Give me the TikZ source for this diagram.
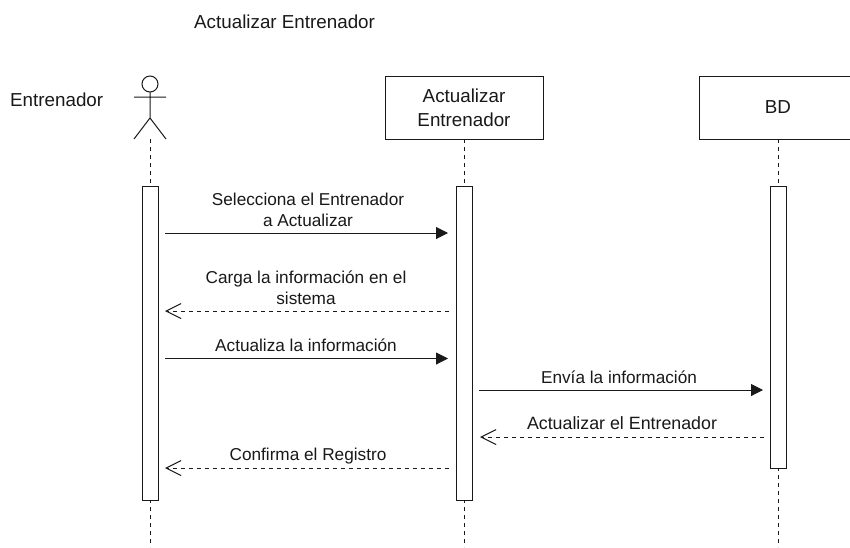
\documentclass[tikz,border=0pt]{standalone}
\usepackage{fontspec}
\setmainfont{Liberation Sans}
\usetikzlibrary{arrows.meta}
\definecolor{ink}{gray}{0.1}
\tikzset{
 px/.style={x=1pt,y=-1pt},
 life/.style={draw=ink,line width=0.9pt,dash pattern=on 4pt off 4pt},
 stick/.style={draw=ink,line width=1pt},
 box/.style={draw=ink,fill=white,line width=1pt,minimum width=158pt,minimum height=63pt,align=center,inner sep=0pt,text=ink,font=\fontsize{18.8}{24}\selectfont},
 act/.style={draw=ink,fill=white,line width=1pt,minimum width=16pt,inner sep=0pt},
 msg/.style={draw=ink,line width=1pt,-{Triangle[length=12pt,width=12pt]}},
 ret/.style={draw=ink,line width=0.9pt,dash pattern=on 4pt off 4pt,-{Straight Barb[length=15pt,width=15pt,line width=1pt]}},
 lbl/.style={text=ink,inner sep=0pt,align=center,font=\fontsize{17.2}{21}\selectfont},
 big/.style={lbl,anchor=west,font=\fontsize{18.8}{23}\selectfont},
}
\begin{document}
\begin{tikzpicture}[px]
\useasboundingbox (0,0) rectangle (850,547);
\fill[white] (0,0) rectangle (850,547);
\node[big] (title) at (194,22) {Actualizar Entrenador};
\node[big] (ename) at (10,100) {Entrenador};
\coordinate (atop) at (150,139);
\coordinate (abot) at (150,547);
\draw[life] (atop) -- (abot);
\coordinate (bt) at (464,139);
\coordinate (bb) at (464,547);
\draw[life] (bt) -- (bb);
\coordinate (ct) at (778,139);
\coordinate (cb) at (778,547);
\draw[life] (ct) -- (cb);
\draw[stick,fill=white] (150,84) circle (8);
\coordinate (neck) at (150,92);
\coordinate (hip) at (150,118);
\coordinate (lf) at (134,139);
\coordinate (rf) at (166,139);
\coordinate (al) at (134,97);
\coordinate (ar) at (166,97);
\draw[stick] (neck) -- (hip) (al) -- (ar) (lf) -- (hip) -- (rf);
\begin{scope}
\clip (0,0) rectangle (850,547);
\node[box] (B) at (464,107.5) {Actualizar\\Entrenador};
\node[box] (C) at (778,107.5) {BD};
\end{scope}
\node[act,minimum height=314pt] (A1) at (150,343) {};
\node[act,minimum height=314pt] (A2) at (464,343) {};
\node[act,minimum height=282pt] (A3) at (778.5,327) {};
\coordinate (p1a) at (165,233); \coordinate (p1b) at (448,233);
\draw[msg] (p1a) -- (p1b);
\node[lbl] (l1) at (308,210) {Selecciona el Entrenador\\a Actualizar};
\coordinate (p2a) at (449,311); \coordinate (p2b) at (165,311);
\draw[ret] (p2a) -- (p2b);
\node[lbl] (l2) at (306,288) {Carga la información en el\\sistema};
\coordinate (p3a) at (165,358.5); \coordinate (p3b) at (448,358.5);
\draw[msg] (p3a) -- (p3b);
\node[lbl] (l3) at (306,345.5) {Actualiza la información};
\coordinate (p4a) at (479,390); \coordinate (p4b) at (763,390);
\draw[msg] (p4a) -- (p4b);
\node[lbl] (l4) at (619,377) {Envía la información};
\coordinate (p5a) at (764,437); \coordinate (p5b) at (480,437);
\draw[ret] (p5a) -- (p5b);
\node[lbl,font=\fontsize{17.8}{22}\selectfont] (l5) at (622,423) {Actualizar el Entrenador};
\coordinate (p6a) at (449,468); \coordinate (p6b) at (165,468);
\draw[ret] (p6a) -- (p6b);
\node[lbl] (l6) at (308,456) {Confirma el Registro};
\end{tikzpicture}
\end{document}
